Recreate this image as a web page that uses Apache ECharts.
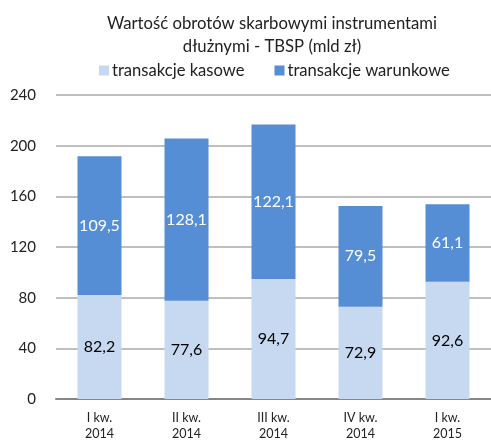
<!DOCTYPE html>
<html><head><meta charset="utf-8">
<script src="https://cdn.jsdelivr.net/npm/echarts@6/dist/echarts.min.js"></script>
<style>html,body{margin:0;padding:0;background:#fff}#c{width:491px;height:445px}</style>
</head><body><div id="c"></div>
<script>
const categories = ['I kw.\n2014', 'II kw.\n2014', 'III kw.\n2014', 'IV kw.\n2014', 'I kw.\n2015'];
const kasowe = [82.2, 77.6, 94.7, 72.9, 92.6];
const warunkowe = [109.5, 128.1, 122.1, 79.5, 61.1];
const yTicks = [0, 40, 80, 120, 160, 200, 240];
const seriesNames = ['transakcje kasowe', 'transakcje warunkowe'];
const fmt = v => String(v.value).replace('.', ',');
const FONT = 'Lato';
const chart = echarts.init(document.getElementById('c'));
chart.setOption({
  animation: false,
  textStyle: { fontFamily: FONT },
  title: {
    text: 'Wartość obrotów skarbowymi instrumentami\ndłużnymi - TBSP (mld zł)',
    left: 267, top: 7, textAlign: 'center',
    textStyle: { fontFamily: FONT, fontSize: 16.7, fontWeight: 'normal', color: '#222', lineHeight: 23 }
  },
  legend: {
    top: 57, left: 94, itemWidth: 10, itemHeight: 10, itemGap: 30,
    icon: 'rect',
    textStyle: { fontFamily: FONT, fontSize: 16.6, color: '#222', padding: [0, 0, 0, -2] },
    data: seriesNames
  },
  grid: { left: 56, right: 0, top: 95, bottom: 46 },
  xAxis: {
    type: 'category', data: categories,
    axisLine: { lineStyle: { color: '#868686', width: 2 } },
    axisTick: { show: false },
    axisLabel: { fontFamily: FONT, fontSize: 12.5, color: '#222', lineHeight: 16, margin: 11 }
  },
  yAxis: {
    type: 'value', min: yTicks[0], max: yTicks[yTicks.length - 1], interval: 40,
    axisLine: { show: false }, axisTick: { show: false },
    axisLabel: { fontFamily: FONT, fontSize: 15, color: '#222', margin: 20 },
    splitLine: { lineStyle: { color: '#bfbfbf', width: 2 } }
  },
  series: [
    {
      name: seriesNames[0], type: 'bar', stack: 't', data: kasowe, barWidth: 44,
      itemStyle: { color: '#C6D9F1' },
      label: { show: true, position: 'inside', formatter: fmt, fontFamily: FONT, fontSize: 16, color: '#000' }
    },
    {
      name: seriesNames[1], type: 'bar', stack: 't', data: warunkowe, barWidth: 44,
      itemStyle: { color: '#558ED5' },
      label: { show: true, position: 'inside', formatter: fmt, fontFamily: FONT, fontSize: 16, color: '#fff' }
    }
  ]
});
</script></body></html>
